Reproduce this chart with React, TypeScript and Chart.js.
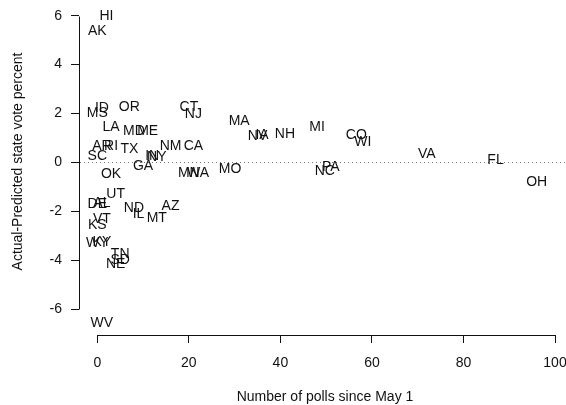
import { useEffect, useRef } from 'react';
import { Chart, registerables } from 'chart.js';

Chart.register(...registerables);

const states = ['HI', 'AK', 'ID', 'MS', 'OR', 'CT', 'NJ', 'LA', 'MD', 'ME', 'AR', 'RI', 'TX', 'SC', 'IN', 'NY', 'NM', 'CA', 'GA', 'OK', 'MN', 'WA', 'UT', 'DE', 'AL', 'ND', 'IL', 'AZ', 'MT', 'VT', 'KS', 'WY', 'KY', 'TN', 'NE', 'SD', 'WV', 'MA', 'NV', 'IA', 'NH', 'MI', 'CO', 'WI', 'MO', 'NC', 'PA', 'VA', 'FL', 'OH'];
const polls = [2, 0, 1, 0, 7, 20, 21, 3, 8, 11, 1, 3, 7, 0, 12, 13, 16, 21, 10, 3, 20, 22, 4, 0, 1, 8, 9, 16, 13, 1, 0, 0, 1, 5, 4, 5, 1, 31, 35, 36, 41, 48, 56.6, 58, 29, 49.7, 51, 72, 87, 96];
const diffs = [6.02, 5.43, 2.27, 2.06, 2.31, 2.31, 2.02, 1.48, 1.32, 1.32, 0.71, 0.71, 0.58, 0.3, 0.3, 0.26, 0.71, 0.71, -0.11, -0.44, -0.4, -0.4, -1.26, -1.67, -1.63, -1.83, -2.07, -1.75, -2.24, -2.28, -2.52, -3.26, -3.22, -3.71, -4.12, -3.95, -6.53, 1.73, 1.12, 1.16, 1.2, 1.48, 1.16, 0.87, -0.23, -0.31, -0.15, 0.38, 0.13, -0.77];
const xTicks = [0, 20, 40, 60, 80, 100];
const yTicks = [-6, -4, -2, 0, 2, 4, 6];
const xTitle = 'Number of polls since May 1';
const yTitle = 'Actual-Predicted state vote percent';

const FONT = "'Liberation Sans', Arial, Helvetica, sans-serif";
const INK = '#111';
const AXIS = '#111';

export default function App() {
  const ref = useRef<HTMLCanvasElement>(null);

  useEffect(() => {
    document.body.style.margin = '0';
    const canvas = ref.current;
    if (!canvas) return;

    const rStyle = {
      id: 'rStyle',
      beforeDatasetsDraw(chart: any) {
        const { ctx, chartArea, scales } = chart;
        const y0 = Math.round(scales.y.getPixelForValue(0)) + 0.5;
        ctx.save();
        ctx.strokeStyle = '#777';
        ctx.lineWidth = 1;
        ctx.setLineDash([1, 3]);
        ctx.beginPath();
        ctx.moveTo(chartArea.left + 1, y0);
        ctx.lineTo(chart.width, y0);
        ctx.stroke();
        ctx.restore();
      },
      afterDatasetsDraw(chart: any) {
        const { ctx } = chart;
        const meta = chart.getDatasetMeta(0);
        ctx.save();
        ctx.font = `14px ${FONT}`;
        ctx.fillStyle = INK;
        ctx.textAlign = 'center';
        ctx.textBaseline = 'alphabetic';
        meta.data.forEach((el: any, i: number) => {
          ctx.fillText(states[i], el.x, el.y + 5);
        });
        ctx.restore();
      },
      afterDraw(chart: any) {
        const { ctx, scales, chartArea } = chart;
        ctx.save();
        ctx.setLineDash([]);
        ctx.strokeStyle = AXIS;
        ctx.lineWidth = 1;
        const lx = Math.round(chartArea.left) + 0.5;
        const yTop = Math.round(scales.y.getPixelForValue(yTicks[yTicks.length - 1])) + 0.5;
        const yBot = Math.round(scales.y.getPixelForValue(yTicks[0])) + 0.5;
        ctx.beginPath();
        ctx.moveTo(lx, yTop);
        ctx.lineTo(lx, yBot);
        ctx.stroke();
        const by = Math.round(chartArea.bottom) + 0.5;
        const x0 = Math.round(scales.x.getPixelForValue(xTicks[0])) + 0.5;
        const x1 = Math.round(scales.x.getPixelForValue(xTicks[xTicks.length - 1])) + 0.5;
        ctx.beginPath();
        ctx.moveTo(x0, by);
        ctx.lineTo(x1, by);
        ctx.stroke();

        ctx.font = `14px ${FONT}`;
        ctx.fillStyle = INK;
        ctx.textAlign = 'center';
        ctx.textBaseline = 'middle';
        ctx.fillText(xTitle, 325, 397);
        ctx.translate(18.5, 161.5);
        ctx.rotate(-Math.PI / 2);
        ctx.fillText(yTitle, 0, 0);
        ctx.restore();
      },
    };

    const chart = new Chart(canvas, {
      type: 'scatter',
      data: {
        datasets: [
          {
            data: polls.map((p, i) => ({ x: p, y: diffs[i] })),
            pointRadius: 0,
            pointHoverRadius: 0,
            showLine: false,
          },
        ],
      },
      options: {
        animation: false,
        responsive: false,
        devicePixelRatio: 1,
        events: [],
        layout: { padding: { left: 0, top: 1, right: 11, bottom: 0 } },
        plugins: { legend: { display: false }, tooltip: { enabled: false } },
        scales: {
          x: {
            type: 'linear',
            min: -4,
            max: 100,
            afterBuildTicks: (s: any) => {
              s.ticks = xTicks.map((v) => ({ value: v }));
            },
            afterFit: (s: any) => {
              s.height = 70;
              s.paddingLeft = 0;
              s.paddingRight = 0;
            },
            border: { display: false },
            grid: { drawOnChartArea: false, drawTicks: true, tickLength: 8, color: AXIS, lineWidth: 1 },
            ticks: {
              padding: 12,
              maxRotation: 0,
              autoSkip: false,
              color: INK,
              font: { family: FONT, size: 14 },
              callback: (v: any) => String(v),
            },
          },
          y: {
            type: 'linear',
            min: -7.05,
            max: 6.6,
            afterBuildTicks: (s: any) => {
              s.ticks = yTicks.map((v) => ({ value: v }));
            },
            afterFit: (s: any) => {
              s.width = 79;
              s.paddingTop = 0;
              s.paddingBottom = 0;
            },
            border: { display: false },
            grid: { drawOnChartArea: false, drawTicks: true, tickLength: 8, color: AXIS, lineWidth: 1 },
            ticks: {
              padding: 9,
              autoSkip: false,
              color: INK,
              font: { family: FONT, size: 14 },
              callback: (v: any) => String(v),
            },
          },
        },
      },
      plugins: [rStyle],
    });

    return () => chart.destroy();
  }, []);

  return (
    <div style={{ width: 566, height: 405 }}>
      <canvas ref={ref} width={566} height={405} style={{ display: 'block', width: 566, height: 405 }} />
    </div>
  );
}
